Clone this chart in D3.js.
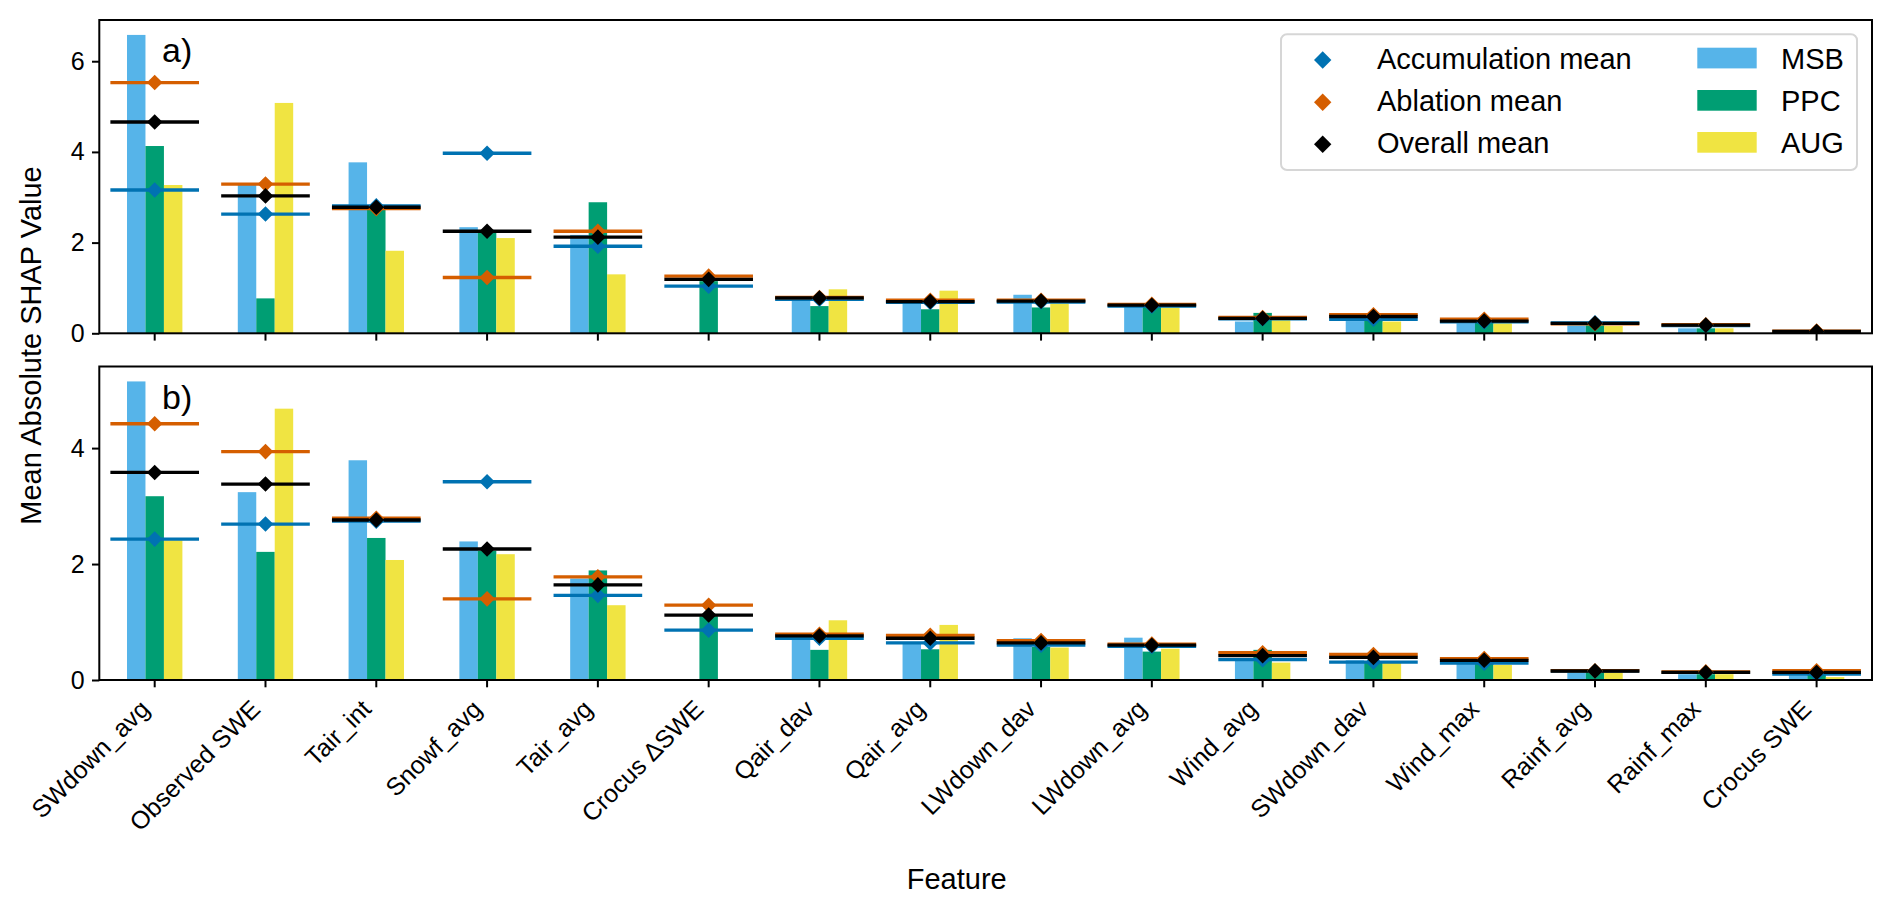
<!DOCTYPE html>
<html>
<head>
<meta charset="utf-8">
<script src="https://cdn.jsdelivr.net/npm/d3@7"></script>
<style>
  html, body { margin: 0; padding: 0; background: #fff; }
  svg { display: block; font-family: "Liberation Sans", Arial, sans-serif; }
</style>
</head>
<body>
<svg id="chart" width="1892" height="909"></svg>
<script>
// ---------------- DATA ----------------
const features = ["SWdown_avg","Observed SWE","Tair_int","Snowf_avg","Tair_avg","Crocus \u0394SWE","Qair_dav","Qair_avg","LWdown_dav","LWdown_avg","Wind_avg","SWdown_dav","Wind_max","Rainf_avg","Rainf_max","Crocus SWE"];
const seriesNames = ["MSB","PPC","AUG"];
const meanNames = ["Accumulation mean","Ablation mean","Overall mean"];

// panel a)
const msbA = [6.58, 3.27, 3.77, 2.34, 2.17, 0.00, 0.73, 0.66, 0.85, 0.59, 0.26, 0.27, 0.22, 0.18, 0.11, 0.01];
const ppcA = [4.13, 0.77, 2.75, 2.22, 2.89, 1.15, 0.60, 0.53, 0.57, 0.62, 0.45, 0.33, 0.26, 0.18, 0.11, 0.02];
const augA = [3.27, 5.08, 1.82, 2.10, 1.30, 0.00, 0.97, 0.94, 0.66, 0.57, 0.29, 0.26, 0.22, 0.16, 0.11, 0.01];
const accA = [3.16, 2.63, 2.81, 3.97, 1.92, 1.04, 0.75, 0.68, 0.69, 0.60, 0.32, 0.31, 0.25, 0.23, 0.17, 0.03];
const ablA = [5.53, 3.29, 2.75, 1.23, 2.25, 1.26, 0.79, 0.73, 0.73, 0.64, 0.35, 0.41, 0.31, 0.21, 0.19, 0.05];
const allA = [4.66, 3.03, 2.78, 2.25, 2.12, 1.19, 0.78, 0.70, 0.71, 0.62, 0.33, 0.37, 0.27, 0.22, 0.18, 0.04];

// panel b)
const msbB = [5.15, 3.24, 3.79, 2.39, 1.75, 0.00, 0.72, 0.63, 0.72, 0.73, 0.37, 0.34, 0.29, 0.13, 0.10, 0.08];
const ppcB = [3.17, 2.21, 2.45, 2.23, 1.89, 1.10, 0.52, 0.53, 0.57, 0.49, 0.52, 0.32, 0.29, 0.18, 0.10, 0.10];
const augB = [2.41, 4.68, 2.07, 2.17, 1.29, 0.00, 1.03, 0.95, 0.56, 0.54, 0.30, 0.30, 0.26, 0.18, 0.10, 0.05];
const accB = [2.43, 2.69, 2.74, 3.42, 1.46, 0.86, 0.72, 0.64, 0.60, 0.58, 0.35, 0.31, 0.29, 0.155, 0.13, 0.10];
const ablB = [4.42, 3.94, 2.79, 1.40, 1.78, 1.29, 0.79, 0.77, 0.68, 0.62, 0.47, 0.44, 0.37, 0.16, 0.14, 0.16];
const allB = [3.58, 3.38, 2.76, 2.26, 1.64, 1.12, 0.76, 0.72, 0.64, 0.60, 0.42, 0.39, 0.34, 0.155, 0.13, 0.13];

const yTicksA = [0, 2, 4, 6];
const yTicksB = [0, 2, 4];
const panelLabels = ["a)", "b)"];

// ---------------- STYLE ----------------
const barColors = ["#56B4E9", "#009E73", "#F0E442"];
const meanColors = ["#0072B2", "#D55E00", "#000000"];

const svg = d3.select("#chart");
const L = 99.3, R = 1872;
const panels = [
  { top: 20, bottom: 333.3, bars: [msbA, ppcA, augA], means: [accA, ablA, allA], ticks: yTicksA, label: panelLabels[0] },
  { top: 366.5, bottom: 680, bars: [msbB, ppcB, augB], means: [accB, ablB, allB], ticks: yTicksB, label: panelLabels[1] }
];

const x = d3.scaleBand().domain(features).range([L, R]).padding(0);
const bw = x.bandwidth();
const xs = d3.scaleBand().domain(seriesNames).range([-bw / 4, bw / 4]).padding(0);
const cx = f => x(f) + bw / 2;
const diamond = r => `M0,${-r}L${r},0L0,${r}L${-r},0Z`;

const tickLen = 7.3, tickPad = 7.3;

panels.forEach((p, pi) => {
  const maxBar = d3.max(p.bars.flat().concat(p.means.flat()));
  const y = d3.scaleLinear().domain([0, maxBar * 1.05]).range([p.bottom, p.top]);
  const g = svg.append("g");

  // bars
  p.bars.forEach((vals, si) => {
    g.selectAll(null).data(features).enter().append("rect")
      .attr("x", f => cx(f) + xs(seriesNames[si]))
      .attr("width", xs.bandwidth())
      .attr("y", (f, i) => y(vals[i]))
      .attr("height", (f, i) => y(0) - y(vals[i]))
      .attr("fill", barColors[si]);
  });

  // mean lines
  p.means.forEach((vals, mi) => {
    g.selectAll(null).data(features).enter().append("line")
      .attr("x1", f => cx(f) - bw * 0.4)
      .attr("x2", f => cx(f) + bw * 0.4)
      .attr("y1", (f, i) => y(vals[i]))
      .attr("y2", (f, i) => y(vals[i]))
      .attr("stroke", meanColors[mi])
      .attr("stroke-width", 3.3);
  });
  // diamonds
  const clipId = "clip" + pi;
  svg.append("clipPath").attr("id", clipId).append("rect")
    .attr("x", L).attr("y", p.top).attr("width", R - L).attr("height", p.bottom - p.top);
  const gm = g.append("g").attr("clip-path", `url(#${clipId})`);
  p.means.forEach((vals, mi) => {
    gm.selectAll(null).data(features).enter().append("path")
      .attr("d", diamond(7.8))
      .attr("transform", (f, i) => `translate(${cx(f)},${y(vals[i])})`)
      .attr("fill", meanColors[mi]);
  });

  // frame
  g.append("rect").attr("x", L).attr("y", p.top).attr("width", R - L).attr("height", p.bottom - p.top)
    .attr("fill", "none").attr("stroke", "#000").attr("stroke-width", 2);

  // y axis
  const ya = d3.axisLeft(y).tickValues(p.ticks).tickFormat(d3.format("d")).tickSize(tickLen).tickPadding(tickPad);
  const yg = g.append("g").attr("transform", `translate(${L},0)`).call(ya);
  yg.select(".domain").remove();
  yg.selectAll(".tick line").attr("stroke", "#000").attr("stroke-width", 2);
  yg.selectAll(".tick text").attr("font-size", 25).attr("fill", "#000")
    .attr("font-family", "'Liberation Sans', Arial, sans-serif");

  // x axis
  const xa = d3.axisBottom(x).tickSize(tickLen).tickFormat("");
  const xg = g.append("g").attr("transform", `translate(0,${p.bottom})`).call(xa);
  xg.select(".domain").remove();
  xg.selectAll(".tick line").attr("stroke", "#000").attr("stroke-width", 2);

  // panel label
  g.append("text").attr("x", 162).attr("y", p.top + 42).attr("font-size", 34).attr("fill", "#000").text(p.label);

  if (pi === 1) {
    const topY = p.bottom + tickLen + tickPad;
    g.selectAll(null).data(features).enter().append("text")
      .attr("text-anchor", "end")
      .attr("font-size", 25)
      .attr("fill", "#000")
      .attr("transform", f => `translate(${cx(f) - 3.7},${topY + 16}) rotate(-45)`)
      .text(f => f);
  }
});

// axis labels
svg.append("text").attr("x", 956.7).attr("y", 889).attr("text-anchor", "middle")
  .attr("font-size", 29).attr("fill", "#000").text("Feature");
svg.append("text").attr("transform", "translate(41,345.5) rotate(-90)").attr("text-anchor", "middle")
  .attr("font-size", 29).attr("fill", "#000").text("Mean Absolute SHAP Value");

// legend
const lg = svg.append("g");
lg.append("rect").attr("x", 1281).attr("y", 34.3).attr("width", 576).attr("height", 135.7)
  .attr("rx", 6).attr("fill", "#fff").attr("fill-opacity", 0.8).attr("stroke", "#d6d6d6").attr("stroke-width", 2);
const rowY = [60, 102.3, 144.3];
meanNames.forEach((n, i) => {
  lg.append("path").attr("d", diamond(8.7)).attr("transform", `translate(1322.7,${rowY[i]})`).attr("fill", meanColors[i]);
  lg.append("text").attr("x", 1377).attr("y", rowY[i] + 8.5).attr("font-size", 29).attr("fill", "#000").text(n);
});
seriesNames.forEach((n, i) => {
  lg.append("rect").attr("x", 1697.3).attr("y", rowY[i] - 12.3).attr("width", 59.4).attr("height", 20.7).attr("fill", barColors[i]);
  lg.append("text").attr("x", 1781).attr("y", rowY[i] + 8.5).attr("font-size", 29).attr("fill", "#000").text(n);
});
</script>
</body>
</html>
